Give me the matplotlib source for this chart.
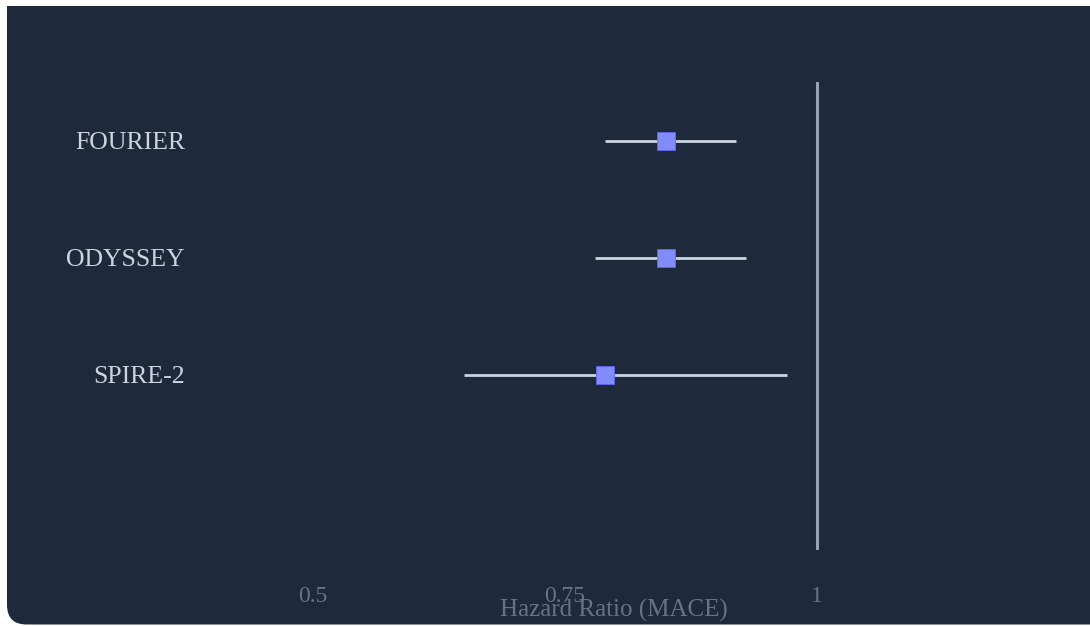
# forest_plot.py
# Hazard ratios for major adverse cardiovascular events (MACE)
# from three PCSK9 inhibitor outcome trials, drawn as a forest plot
import matplotlib.pyplot as plt
from matplotlib.patches import FancyBboxPatch, Rectangle

trials = ["FOURIER", "ODYSSEY", "SPIRE-2"]
hazard_ratio = [0.85, 0.85, 0.79]
ci_low = [0.79, 0.78, 0.65]
ci_high = [0.92, 0.93, 0.97]
x_ticks = [0.5, 0.75, 1]
x_tick_labels = ["0.5", "0.75", "1"]

W, H = 1090, 626
BG = "#1e293b"


def px(x, y):
    # pixel position (from top-left) -> figure fraction
    return x / W, 1 - y / H


def main():
    plt.rcParams["font.family"] = ["Liberation Serif", "DejaVu Serif"]
    fig = plt.figure(figsize=(W / 100, H / 100), dpi=100, facecolor="white")

    # dark card behind the chart, rounded at the bottom
    fig.patches.append(FancyBboxPatch(
        (7 / W, 1.5 / H), 1.2, 0.6, boxstyle="round,pad=0,rounding_size=0.018",
        transform=fig.transFigure, facecolor=BG, edgecolor="none",
        mutation_aspect=W / H, zorder=-2))
    fig.patches.append(Rectangle(
        (7 / W, 0.3), 1.0, 1 - 0.3 - 6 / H, transform=fig.transFigure,
        facecolor=BG, edgecolor="none", zorder=-2))

    left, top = px(212, 82)
    right, bottom = px(1069, 550)
    ax = fig.add_axes([left, bottom, right - left, top - bottom])
    ax.set_facecolor("none")
    for s in ax.spines.values():
        s.set_visible(False)

    ypos = list(range(len(trials)))
    # no-effect reference line
    ax.axvline(1, color="#94a3b8", lw=2.2, zorder=1)
    for y, lo, hi, hr in zip(ypos, ci_low, ci_high, hazard_ratio):
        ax.plot([lo, hi], [y, y], color="#cbd5e1", lw=2.0,
                solid_capstyle="butt", zorder=2)
        ax.plot(hr, y, marker="s", ms=12.5, color="#818cf8",
                mec="#6366f1", mew=0.6, zorder=3)

    ax.set_xlim(0.4, 1.25)
    ax.set_ylim(3.5, -0.5)
    ax.set_yticks(ypos)
    ax.set_yticklabels(trials, fontsize=18.5, color="#cbd5e1")
    ax.set_xticks(x_ticks)
    ax.set_xticklabels(x_tick_labels, fontsize=17, color="#64748b")
    ax.tick_params(axis="y", length=0, pad=19.5)
    ax.tick_params(axis="x", length=0, pad=26)

    tx, ty = px(614, 617)
    fig.text(tx, ty, "Hazard Ratio (MACE)", ha="center", va="baseline",
             fontsize=18, color="#64748b")

    fig.savefig("out.png", dpi=100, facecolor=fig.get_facecolor())


main()
